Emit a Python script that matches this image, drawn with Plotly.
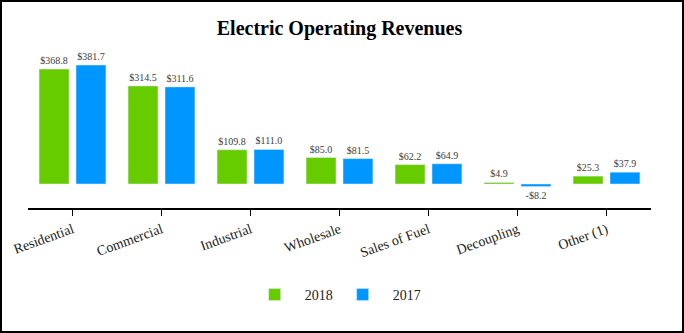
import plotly.graph_objects as go

categories = ["Residential", "Commercial", "Industrial", "Wholesale",
              "Sales of Fuel", "Decoupling", "Other (1)"]
rev_2018 = [368.8, 314.5, 109.8, 85.0, 62.2, 4.9, 25.3]
rev_2017 = [381.7, 311.6, 111.0, 81.5, 64.9, -8.2, 37.9]


def money(v):
    return f"-${abs(v):.1f}" if v < 0 else f"${v:.1f}"


FONT = "Liberation Serif, Times New Roman, serif"

fig = go.Figure()
fig.add_trace(go.Bar(
    name="2018", x=categories, y=rev_2018,
    marker_color="#66CC00",
    text=[money(v) for v in rev_2018], textposition="outside",
    textfont=dict(family=FONT, size=10, color="#404040"),
    cliponaxis=False,
))
fig.add_trace(go.Bar(
    name="2017", x=categories, y=rev_2017,
    marker_color="#0096FF",
    text=[money(v) for v in rev_2017], textposition="outside",
    textfont=dict(family=FONT, size=10, color="#404040"),
    cliponaxis=False,
))

# plot area: x 28..651 px, y 50..208 px
L, R, T, B = 28, 33, 50, 125
W, H = 684, 333
pw, ph = W - L - R, H - T - B


def px_x(p):
    return (p - L) / pw


def px_y(p):
    return (T + ph - p) / ph


fig.update_layout(
    width=W, height=H,
    margin=dict(l=L, r=R, t=T, b=B),
    paper_bgcolor="white", plot_bgcolor="white",
    barmode="group", bargap=0.17, bargroupgap=0.19,
    title=dict(text="<b>Electric Operating Revenues</b>", x=0.5, xref="paper",
               xanchor="center", y=1 - 28 / H, yanchor="middle",
               font=dict(family=FONT, size=20, color="black")),
    legend=dict(orientation="h", x=0.489, xanchor="center",
                y=px_y(295), yanchor="middle",
                font=dict(family=FONT, size=14, color="#222"),
                itemwidth=50, entrywidth=23, entrywidthmode="pixels",
                traceorder="normal"),
    xaxis=dict(showline=True, linecolor="black", linewidth=2,
               ticks="outside", ticklen=6, tickcolor="black", tickwidth=1,
               tickangle=-20, tickfont=dict(family=FONT, size=14, color="#222"),
               showgrid=False),
    yaxis=dict(range=[-77, 430], visible=False, showgrid=False, zeroline=False),
    shapes=[dict(type="rect", xref="paper", yref="paper",
                 x0=px_x(1), x1=px_x(683), y0=px_y(332), y1=px_y(1),
                 line=dict(color="black", width=2), layer="above")],
)

fig.write_html("out.html")
